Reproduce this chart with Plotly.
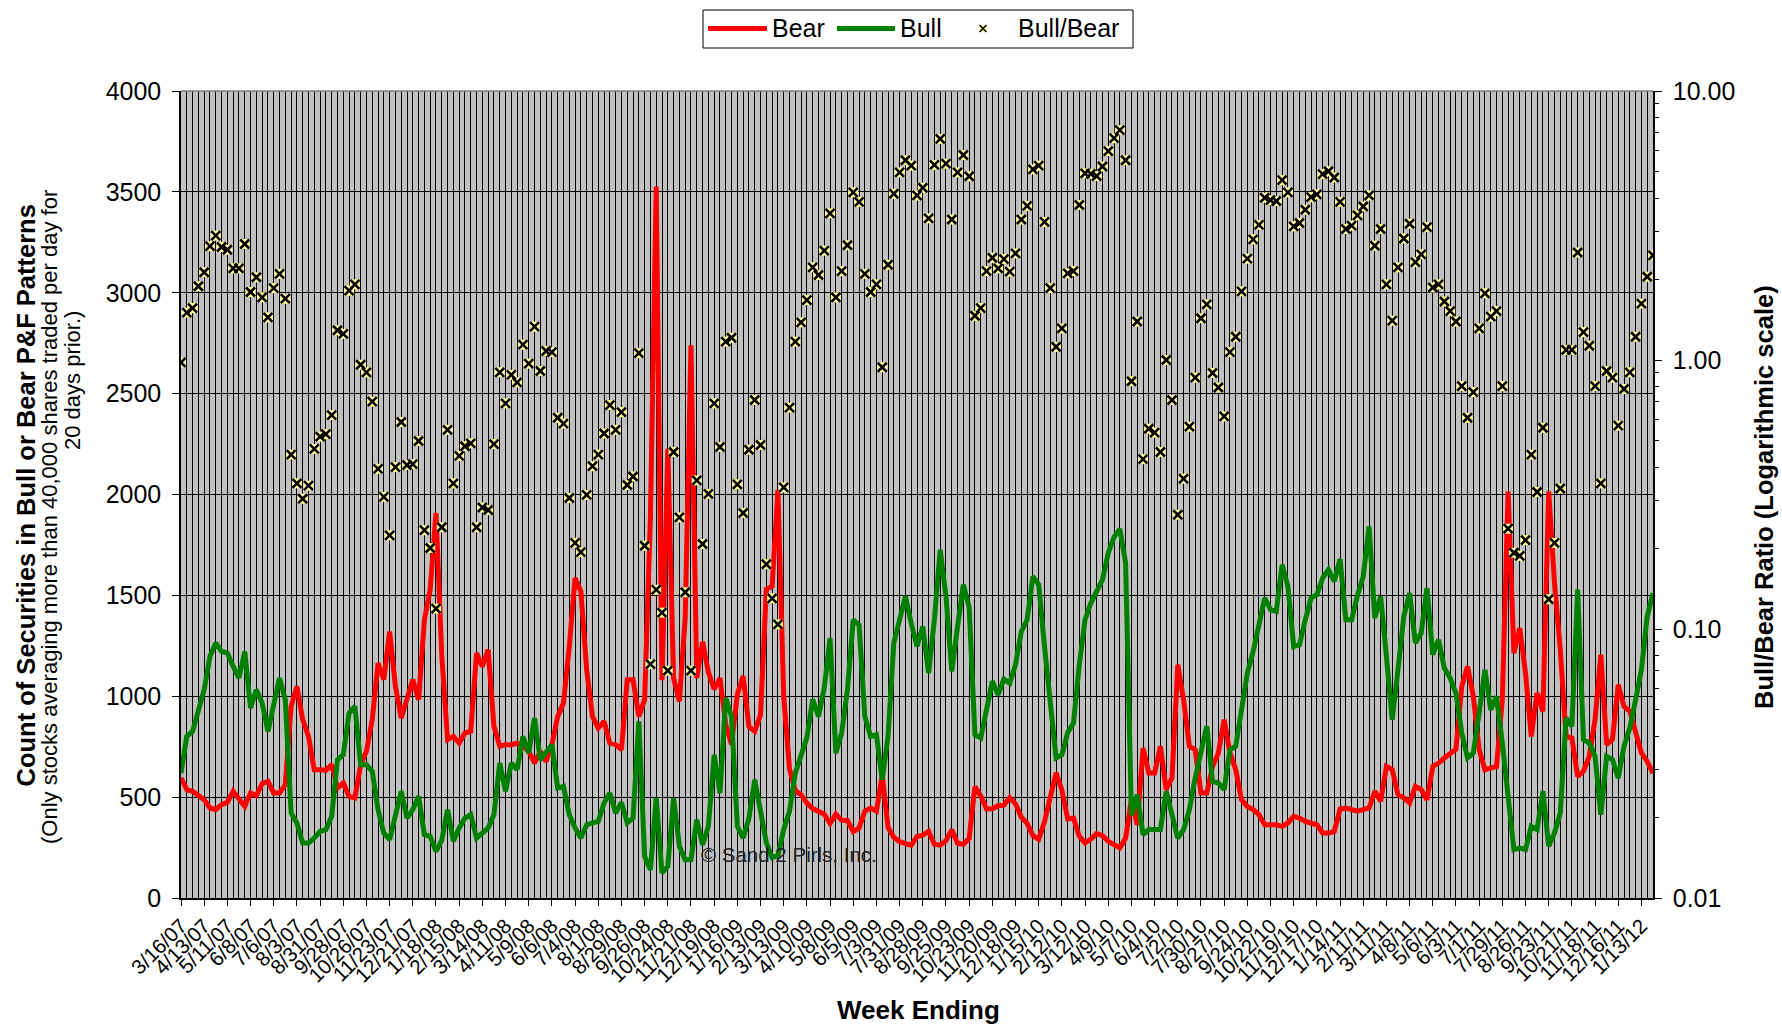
import pandas as pd
import plotly.graph_objects as go

# Weekly counts of securities in bearish / bullish P&F patterns
bear = [
    595, 537, 529, 504, 487, 446, 438, 463, 474, 529,
    491, 454, 520, 507, 567, 578, 520, 520, 562, 950,
    1049, 884, 801, 636, 636, 633, 661, 545, 570, 504,
    496, 661, 727, 884, 1164, 1082, 1321, 1049, 892, 983,
    1082, 983, 1379, 1528, 1908, 1200, 785, 801, 768, 818,
    826, 1214, 1148, 1231, 851, 752, 760, 760, 768, 752,
    727, 669, 727, 677, 760, 900, 966, 1247, 1586, 1520,
    1131, 900, 842, 875, 768, 760, 735, 1082, 1082, 900,
    983, 1890, 3526, 1080, 2226, 1090, 975, 1390, 2740, 1090,
    1270, 1120, 1035, 1090, 860, 760, 1010, 1100, 850, 826,
    908, 1530, 1545, 2023, 1000, 640, 533, 512, 470, 443,
    432, 415, 370, 416, 385, 384, 329, 348, 430, 446,
    431, 610, 350, 301, 279, 271, 261, 305, 311, 331,
    266, 262, 284, 338, 271, 266, 295, 553, 506, 441,
    442, 457, 460, 498, 467, 401, 370, 309, 291, 378,
    508, 620, 535, 392, 396, 306, 273, 292, 319, 309,
    281, 264, 248, 297, 490, 363, 743, 619, 619, 752,
    537, 595, 1156, 983, 752, 735, 520, 520, 652, 719,
    884, 719, 636, 487, 454, 438, 413, 363, 363, 363,
    355, 372, 405, 396, 380, 372, 363, 322, 322, 330,
    440, 446, 438, 430, 438, 446, 529, 479, 652, 636,
    512, 496, 471, 553, 537, 487, 652, 669, 694, 719,
    738, 1049, 1148, 999, 735, 636, 644, 652, 983, 2015,
    1214, 1338, 1115, 801, 1016, 925, 2015, 1561, 1231, 801,
    793, 603, 628, 702, 884, 1206, 760, 785, 1057, 950,
    925, 818, 719, 677, 619,
]

bull = [
    619, 801, 826, 933, 1032, 1198, 1264, 1222, 1214, 1148,
    1090, 1222, 942, 1032, 966, 826, 966, 1090, 983, 421,
    372, 273, 273, 297, 330, 339, 405, 685, 710, 917,
    950, 661, 661, 628, 438, 322, 289, 405, 529, 396,
    438, 504, 314, 306, 231, 287, 438, 281, 347, 396,
    413, 297, 322, 347, 413, 669, 529, 669, 636, 801,
    719, 892, 685, 719, 760, 545, 553, 413, 347, 297,
    363, 372, 380, 471, 520, 421, 474, 372, 396, 875,
    206, 140, 496, 124, 157, 496, 256, 190, 190, 388,
    264, 355, 710, 520, 991, 900, 355, 297, 395, 586,
    439, 275, 200, 210, 340, 430, 619, 715, 795, 985,
    900, 1041, 1288, 718, 818, 1032, 1379, 1354, 900, 801,
    809, 586, 801, 1264, 1379, 1495, 1363, 1247, 1346, 1115,
    1379, 1726, 1495, 1123, 1346, 1553, 1440, 809, 793, 933,
    1074, 1008, 1085, 1065, 1156, 1321, 1379, 1594, 1553, 1247,
    950, 694, 710, 820, 867, 1156, 1379, 1462, 1520, 1577,
    1710, 1789, 1829, 1660, 410, 512, 314, 339, 339, 339,
    529, 421, 297, 339, 438, 595, 727, 851, 578, 570,
    537, 735, 752, 917, 1115, 1222, 1346, 1487, 1429, 1421,
    1652, 1544, 1247, 1255, 1379, 1487, 1503, 1586, 1627, 1569,
    1680, 1379, 1379, 1500, 1594, 1842, 1388, 1495, 1198, 884,
    1131, 1396, 1511, 1264, 1313, 1536, 1206, 1280, 1140, 1090,
    1016, 818, 694, 719, 917, 1131, 933, 999, 768, 487,
    240, 248, 240, 355, 339, 529, 256, 322, 421, 892,
    851, 1528, 785, 768, 702, 413, 702, 686, 595, 752,
    842, 983, 1131, 1396, 1511,
]

bull_bear_ratio = [
    0.98, 1.50, 1.56, 1.88, 2.12, 2.65, 2.90, 2.63, 2.57, 2.19,
    2.19, 2.70, 1.79, 2.03, 1.71, 1.44, 1.85, 2.09, 1.69, 0.445,
    0.348, 0.305, 0.341, 0.467, 0.519, 0.53, 0.624, 1.29, 1.25, 1.81,
    1.91, 0.96, 0.90, 0.70, 0.394, 0.31, 0.223, 0.40, 0.588, 0.407,
    0.41, 0.50, 0.233, 0.20, 0.119, 0.239, 0.55, 0.348, 0.44, 0.478,
    0.49, 0.239, 0.283, 0.277, 0.487, 0.90, 0.69, 0.88, 0.826, 1.14,
    0.97, 1.33, 0.91, 1.08, 1.07, 0.61, 0.58, 0.307, 0.209, 0.193,
    0.315, 0.403, 0.445, 0.533, 0.68, 0.55, 0.64, 0.343, 0.369, 1.06,
    0.204, 0.074, 0.140, 0.115, 0.070, 0.455, 0.26, 0.137, 0.070, 0.357,
    0.207, 0.318, 0.69, 0.475, 1.17, 1.21, 0.345, 0.27, 0.464, 0.71,
    0.483, 0.174, 0.130, 0.104, 0.336, 0.665, 1.17, 1.38, 1.67, 2.21,
    2.07, 2.55, 3.51, 1.71, 2.14, 2.67, 4.20, 3.87, 2.09, 1.79,
    1.91, 0.94, 2.26, 4.15, 4.98, 5.53, 5.28, 4.09, 4.37, 3.36,
    5.31, 6.64, 5.37, 3.33, 4.98, 5.78, 4.82, 1.46, 1.56, 2.14,
    2.40, 2.19, 2.37, 2.13, 2.49, 3.33, 3.74, 5.11, 5.28, 3.26,
    1.85, 1.12, 1.31, 2.10, 2.14, 3.77, 4.94, 4.92, 4.83, 5.24,
    5.98, 6.68, 7.15, 5.53, 0.834, 1.39, 0.428, 0.555, 0.537, 0.455,
    1.00, 0.71, 0.266, 0.362, 0.565, 0.86, 1.43, 1.61, 0.895, 0.79,
    0.617, 1.07, 1.22, 1.80, 2.38, 2.81, 3.18, 4.01, 3.93, 3.90,
    4.66, 4.20, 3.14, 3.23, 3.62, 4.03, 4.13, 4.91, 5.03, 4.77,
    3.87, 3.07, 3.16, 3.45, 3.72, 4.09, 2.66, 3.07, 1.91, 1.40,
    2.21, 2.83, 3.21, 2.31, 2.47, 3.12, 1.86, 1.91, 1.65, 1.52,
    1.39, 0.80, 0.61, 0.76, 1.31, 1.77, 1.45, 1.52, 0.80, 0.236,
    0.192, 0.187, 0.214, 0.445, 0.323, 0.56, 0.129, 0.209, 0.333, 1.09,
    1.09, 2.51, 1.27, 1.13, 0.80, 0.348, 0.91, 0.86, 0.57, 0.78,
    0.90, 1.22, 1.62, 2.04, 2.45,
]

tick_labels = [
    "3/16/07", "4/13/07", "5/11/07", "6/8/07", "7/6/07", "8/3/07", "8/31/07",
    "9/28/07", "10/26/07", "11/23/07", "12/21/07", "1/18/08", "2/15/08",
    "3/14/08", "4/11/08", "5/9/08", "6/6/08", "7/4/08", "8/1/08", "8/29/08",
    "9/26/08", "10/24/08", "11/21/08", "12/19/08", "1/16/09", "2/13/09",
    "3/13/09", "4/10/09", "5/8/09", "6/5/09", "7/3/09", "7/31/09", "8/28/09",
    "9/25/09", "10/23/09", "11/20/09", "12/18/09", "1/15/10", "2/12/10",
    "3/12/10", "4/9/10", "5/7/10", "6/4/10", "7/2/10", "7/30/10", "8/27/10",
    "9/24/10", "10/22/10", "11/19/10", "12/17/10", "1/14/11", "2/11/11",
    "3/11/11", "4/8/11", "5/6/11", "6/3/11", "7/1/11", "7/29/11", "8/26/11",
    "9/23/11", "10/21/11", "11/18/11", "12/16/11", "1/13/12",
]

ratio_ticks = [0.01, 0.1, 1, 10]
ratio_tick_text = ["0.01", "0.10", "1.00", "10.00"]

week_ending = pd.date_range("2007-03-16", periods=len(bear), freq="7D")
tick_dates = week_ending[::4][: len(tick_labels)]
ratio_minor = [m * 10.0 ** e for e in (-2, -1, 0) for m in range(2, 10)]

FONT = "Liberation Sans, Arial, Helvetica, sans-serif"
RED, GREEN, PALE_YELLOW = "#FF0000", "#008000", "#FFFF99"

# plot-area geometry in pixels, used to place the hand-drawn legend
W, H = 1782, 1026
ML, MR, MT, MB = 181, 129, 91, 128
PW, PH = W - ML - MR, H - MT - MB


def px_x(x):
    return (x - ML) / PW


def px_y(y):
    return (H - MB - y) / PH


fig = go.Figure()
fig.add_trace(go.Scatter(
    x=week_ending, y=bear, name="Bear", mode="lines",
    line=dict(color=RED, width=5), showlegend=False,
))
fig.add_trace(go.Scatter(
    x=week_ending, y=bull, name="Bull", mode="lines",
    line=dict(color=GREEN, width=5), showlegend=False,
))
# pale yellow backing square behind each ratio marker
fig.add_trace(go.Scatter(
    x=week_ending, y=bull_bear_ratio, yaxis="y2", mode="markers",
    marker=dict(symbol="square", size=10, color=PALE_YELLOW, line=dict(width=0)),
    showlegend=False, hoverinfo="skip",
))
fig.add_trace(go.Scatter(
    x=week_ending, y=bull_bear_ratio, yaxis="y2", name="Bull/Bear", mode="markers",
    marker=dict(symbol="x-thin", size=9, color="black",
                line=dict(width=2.6, color="black")),
    showlegend=False,
))

fig.update_layout(
    width=W, height=H,
    margin=dict(l=ML, r=MR, t=MT, b=MB),
    paper_bgcolor="white", plot_bgcolor="#C0C0C0",
    font=dict(family=FONT, color="black", size=20),
    showlegend=False,
    xaxis=dict(
        type="date", range=[week_ending[0], week_ending[-1]],
        tickmode="array", tickvals=tick_dates, ticktext=tick_labels,
        tickangle=-45, tickfont=dict(size=20.5, family=FONT),
        ticks="outside", ticklen=6, tickcolor="black",
        showgrid=True, gridcolor="black", gridwidth=1,
        minor=dict(dtick=7 * 86400000, tick0=week_ending[0], showgrid=True,
                   gridcolor="black", gridwidth=1),
        showline=True, linecolor="black", linewidth=1.5,
        zeroline=False, automargin=False,
    ),
    yaxis=dict(
        range=[0, 4000], dtick=500, tickfont=dict(size=25, family=FONT),
        ticks="outside", ticklen=7, tickcolor="black", ticklabelstandoff=6,
        showgrid=True, gridcolor="black", gridwidth=1,
        showline=True, linecolor="black", linewidth=1.5,
        zeroline=False, automargin=False,
    ),
    yaxis2=dict(
        type="log", range=[-2, 1], overlaying="y", side="right",
        tickmode="array", tickvals=ratio_ticks, ticktext=ratio_tick_text,
        tickfont=dict(size=25, family=FONT),
        ticks="outside", ticklen=7, tickcolor="black", ticklabelstandoff=6,
        minor=dict(tickmode="array", tickvals=ratio_minor, ticks="outside",
                   ticklen=4, tickcolor="black", showgrid=False),
        showgrid=False, showline=True, linecolor="black", linewidth=1.5,
        zeroline=False, automargin=False,
    ),
)

# legend: framed box with line samples, a ratio marker and labels
ly = px_y(28.5)
mx = px_x(983)
hx, hy = 3.5 / PW, 3.5 / PH
legend_shapes = [
    dict(type="rect", x0=px_x(703), x1=px_x(1133), y0=px_y(48), y1=px_y(10),
         line=dict(color="black", width=1), fillcolor="white"),
    dict(type="line", x0=px_x(708), x1=px_x(767), y0=ly, y1=ly,
         line=dict(color=RED, width=5)),
    dict(type="line", x0=px_x(837), x1=px_x(895), y0=ly, y1=ly,
         line=dict(color=GREEN, width=5)),
    dict(type="rect", x0=mx - hx, x1=mx + hx, y0=ly - hy, y1=ly + hy,
         line=dict(width=0), fillcolor=PALE_YELLOW),
    dict(type="line", x0=mx - hx, x1=mx + hx, y0=ly - hy, y1=ly + hy,
         line=dict(color="black", width=1.6)),
    dict(type="line", x0=mx - hx, x1=mx + hx, y0=ly + hy, y1=ly - hy,
         line=dict(color="black", width=1.6)),
    # top edge of the plot frame
    dict(type="line", x0=0, x1=1, y0=1, y1=1,
         line=dict(color="#808080", width=1.5)),
]
for s in legend_shapes:
    s.update(xref="paper", yref="paper")
    fig.add_shape(**s)

for label, x in (("Bear", 771), ("Bull", 899), ("Bull/Bear", 1017)):
    fig.add_annotation(
        text=label, xref="paper", yref="paper", x=px_x(x), y=ly,
        xanchor="left", yanchor="middle", showarrow=False, borderpad=0,
        font=dict(size=25, family=FONT, color="black"),
    )

annotations = [
    dict(text="<b>Count of Securities in Bull or Bear P&F Patterns</b>",
         x=px_x(25), y=px_y(495.5), textangle=-90, font=dict(size=25.5)),
    dict(text="(Only stocks averaging more than 40,000 shares traded per day for",
         x=px_x(49), y=px_y(517), textangle=-90, font=dict(size=22)),
    dict(text="20 days prior.)", x=px_x(72), y=px_y(381), textangle=-90,
         font=dict(size=22)),
    dict(text="<b>Bull/Bear Ratio (Logarithmic scale)</b>",
         x=px_x(1764), y=px_y(497), textangle=-90, font=dict(size=25.5)),
    dict(text="<b>Week Ending</b>", x=px_x(918), y=px_y(1010),
         font=dict(size=26)),
]
for a in annotations:
    a.update(xref="paper", yref="paper", showarrow=False,
             xanchor="center", yanchor="middle")
    a["font"].update(family=FONT, color="black")
    fig.add_annotation(**a)

fig.add_annotation(
    text="© Sand 2 Pirls, Inc.", xref="paper", yref="paper",
    x=px_x(699), y=px_y(854), xanchor="left", yanchor="middle", showarrow=False,
    font=dict(size=20.5, family=FONT, color="#222222"),
)

fig.write_html("out.html")
